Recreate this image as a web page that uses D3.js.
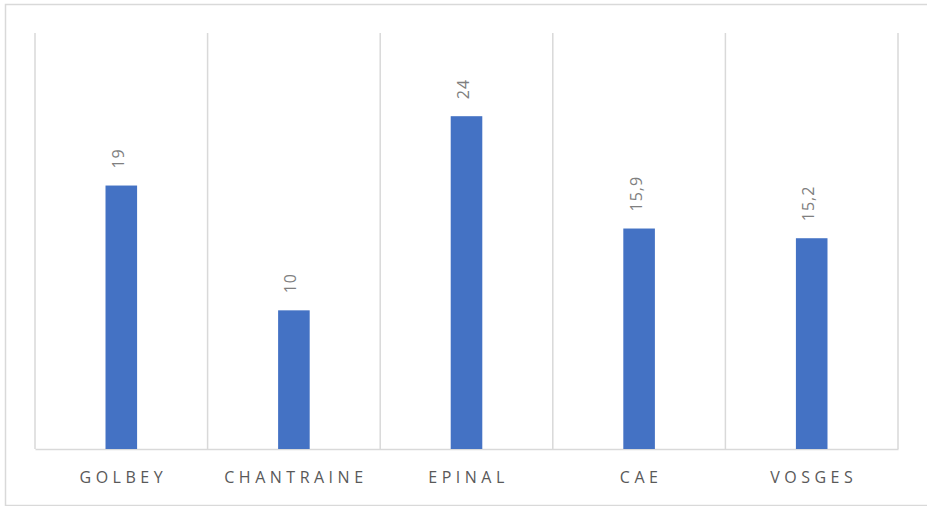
<!DOCTYPE html>
<html>
<head>
<meta charset="utf-8">
<script src="https://cdn.jsdelivr.net/npm/d3@7"></script>
<style>
  body { margin: 0; background: #fff; }
</style>
</head>
<body>
<svg id="chart"></svg>
<script>
const categories = ["GOLBEY", "CHANTRAINE", "EPINAL", "CAE", "VOSGES"];
const values = [19, 10, 24, 15.9, 15.2];
const valueLabels = ["19", "10", "24", "15,9", "15,2"];

const W = 927, H = 506;
const margin = {top: 33, right: 29, bottom: 57, left: 35};
const width = W - margin.left - margin.right;
const height = H - margin.top - margin.bottom;

const svg = d3.select("#chart")
    .attr("width", W)
    .attr("height", H);

// outer border
svg.append("rect")
    .attr("x", 5.5)
    .attr("y", 4.5)
    .attr("width", W - 4)
    .attr("height", H - 5)
    .attr("fill", "#fff")
    .attr("stroke", "#d9d9d9")
    .attr("stroke-width", 1.5);

const g = svg.append("g")
    .attr("transform", "translate(" + margin.left + "," + margin.top + ")");

const x = d3.scaleBand()
    .domain(categories)
    .range([0, width])
    .paddingInner(0)
    .paddingOuter(0);

const y = d3.scaleLinear()
    .domain([0, 30])
    .range([height, 0]);

// vertical gridlines between categories
const edges = categories.map(c => x(c)).concat([width]);
g.append("g")
    .selectAll("line")
    .data(edges)
    .join("line")
    .attr("x1", d => d)
    .attr("x2", d => d)
    .attr("y1", 0)
    .attr("y2", height)
    .attr("stroke", "#d9d9d9")
    .attr("stroke-width", 1.5);

// x axis
const xAxis = g.append("g")
    .attr("transform", "translate(0," + height + ")")
    .call(d3.axisBottom(x).tickSize(0).tickPadding(22.5));
xAxis.select(".domain")
    .attr("stroke", "#d9d9d9")
    .attr("stroke-width", 1.5);
xAxis.selectAll("text")
    .attr("font-family", "'Open Sans', sans-serif")
    .attr("font-size", 16)
    .attr("letter-spacing", "4.5px")
    .attr("dx", "2px")
    .attr("fill", "#595959");

// bars
const barW = x.bandwidth() * 0.183;
g.append("g")
    .selectAll("rect")
    .data(values)
    .join("rect")
    .attr("x", (d, i) => x(categories[i]) + x.bandwidth() / 2 - barW / 2)
    .attr("y", d => y(d))
    .attr("width", barW)
    .attr("height", d => height - y(d))
    .attr("fill", "#4472c4");

// rotated value labels
g.append("g")
    .selectAll("text")
    .data(values)
    .join("text")
    .attr("transform", (d, i) =>
        "translate(" + (x(categories[i]) + x.bandwidth() / 2) + "," + (y(d) - 17) + ") rotate(-90)")
    .attr("dy", "0.15em")
    .attr("font-family", "'Open Sans', sans-serif")
    .attr("font-size", 16)
    .attr("letter-spacing", "1px")
    .attr("fill", "#7f7f7f")
    .attr("text-anchor", "start")
    .text((d, i) => valueLabels[i]);
</script>
</body>
</html>
